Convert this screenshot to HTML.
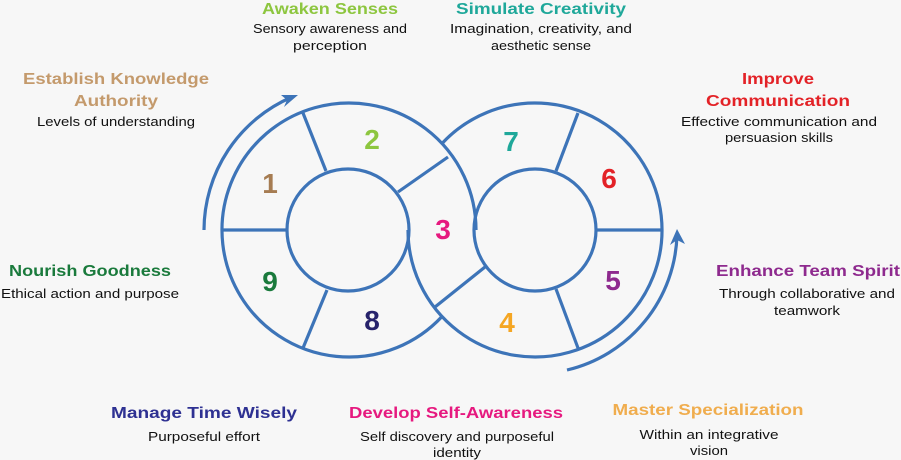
<!DOCTYPE html>
<html><head><meta charset="utf-8"><style>
html,body{margin:0;padding:0;background:#f7f7f7;}
svg{display:block;}
.t{font-family:"Liberation Sans",sans-serif;font-weight:bold;font-size:15.5px;text-anchor:middle;}
.s{font-family:"Liberation Sans",sans-serif;font-size:12.5px;text-anchor:middle;fill:#111;}
.n{font-family:"Liberation Sans",sans-serif;font-weight:bold;font-size:28px;text-anchor:middle;}
</style></head><body>
<svg width="901" height="460" viewBox="0 0 901 460" xmlns="http://www.w3.org/2000/svg">
<rect width="901" height="460" fill="#f7f7f7"/>
<g fill="none" stroke="#3d74b8" stroke-width="3.2">
<path d="M476 230 A127 127 0 1 0 442 316.5"/>
<path d="M408 230 A127 127 0 1 0 442 143.5"/>
<circle cx="348" cy="230" r="61"/>
<circle cx="535" cy="230" r="61"/>
<line x1="222" y1="230" x2="287" y2="230"/>
<line x1="303" y1="113" x2="326" y2="171"/>
<line x1="303" y1="348" x2="327" y2="290"/>
<line x1="398" y1="192" x2="448" y2="157"/>
<line x1="596" y1="230" x2="662" y2="230"/>
<line x1="578" y1="113" x2="556" y2="171"/>
<line x1="578" y1="348" x2="556" y2="289"/>
<line x1="485" y1="267" x2="435" y2="307"/>
<path d="M204 230 A145 145 0 0 1 292 97"/>
<path d="M567 370 A143 143 0 0 0 677 235"/>
</g>
<g fill="#3d74b8">
<path d="M298 95 L281 95 L287 100 L284 107 Z"/>
<path d="M677 229 L670 245 L677 240 L685 244 Z"/>
</g>
<text class="n" x="270" y="193" fill="#a67c52">1</text>
<text class="n" x="372" y="149" fill="#8dc63f">2</text>
<text class="n" x="443" y="239" fill="#e6197f">3</text>
<text class="n" x="507" y="332" fill="#f5a623">4</text>
<text class="n" x="613" y="290" fill="#8e2a8e">5</text>
<text class="n" x="609" y="188" fill="#e32227">6</text>
<text class="n" x="511" y="151" fill="#1fa89a">7</text>
<text class="n" x="372" y="330" fill="#27236b">8</text>
<text class="n" x="270" y="291" fill="#1a7a3c">9</text>

<text class="t" x="330" y="14" fill="#8dc63f" textLength="136" lengthAdjust="spacingAndGlyphs">Awaken Senses</text>
<text class="s" x="330" y="33" textLength="154" lengthAdjust="spacingAndGlyphs">Sensory awareness and</text>
<text class="s" x="330" y="50" textLength="74" lengthAdjust="spacingAndGlyphs">perception</text>

<text class="t" x="541" y="14" fill="#1fa89a" textLength="170" lengthAdjust="spacingAndGlyphs">Simulate Creativity</text>
<text class="s" x="541" y="33" textLength="182" lengthAdjust="spacingAndGlyphs">Imagination, creativity, and</text>
<text class="s" x="541" y="50" textLength="100" lengthAdjust="spacingAndGlyphs">aesthetic sense</text>

<text class="t" x="116" y="84" fill="#c49a6c" textLength="186" lengthAdjust="spacingAndGlyphs">Establish Knowledge</text>
<text class="t" x="116" y="106" fill="#c49a6c" textLength="84" lengthAdjust="spacingAndGlyphs">Authority</text>
<text class="s" x="116" y="126" textLength="158" lengthAdjust="spacingAndGlyphs">Levels of understanding</text>

<text class="t" x="778" y="84" fill="#e32227" textLength="72" lengthAdjust="spacingAndGlyphs">Improve</text>
<text class="t" x="778" y="106" fill="#e32227" textLength="144" lengthAdjust="spacingAndGlyphs">Communication</text>
<text class="s" x="779" y="126" textLength="196" lengthAdjust="spacingAndGlyphs">Effective communication and</text>
<text class="s" x="779" y="142" textLength="108" lengthAdjust="spacingAndGlyphs">persuasion skills</text>

<text class="t" x="90" y="276" fill="#1a7a3c" textLength="162" lengthAdjust="spacingAndGlyphs">Nourish Goodness</text>
<text class="s" x="90" y="298" textLength="178" lengthAdjust="spacingAndGlyphs">Ethical action and purpose</text>

<text class="t" x="808" y="276" fill="#8e2a8e" textLength="184" lengthAdjust="spacingAndGlyphs">Enhance Team Spirit</text>
<text class="s" x="807" y="298" textLength="176" lengthAdjust="spacingAndGlyphs">Through collaborative and</text>
<text class="s" x="807" y="315" textLength="66" lengthAdjust="spacingAndGlyphs">teamwork</text>

<text class="t" x="204" y="418" fill="#2e3192" textLength="186" lengthAdjust="spacingAndGlyphs">Manage Time Wisely</text>
<text class="s" x="204" y="441" textLength="112" lengthAdjust="spacingAndGlyphs">Purposeful effort</text>

<text class="t" x="456" y="418" fill="#e6197f" textLength="214" lengthAdjust="spacingAndGlyphs">Develop Self-Awareness</text>
<text class="s" x="457" y="441" textLength="194" lengthAdjust="spacingAndGlyphs">Self discovery and purposeful</text>
<text class="s" x="457" y="457" textLength="48" lengthAdjust="spacingAndGlyphs">identity</text>

<text class="t" x="708" y="415" fill="#f0ad4e" textLength="191" lengthAdjust="spacingAndGlyphs">Master Specialization</text>
<text class="s" x="709" y="439" textLength="139" lengthAdjust="spacingAndGlyphs">Within an integrative</text>
<text class="s" x="709" y="455" textLength="38" lengthAdjust="spacingAndGlyphs">vision</text>
</svg>
</body></html>
